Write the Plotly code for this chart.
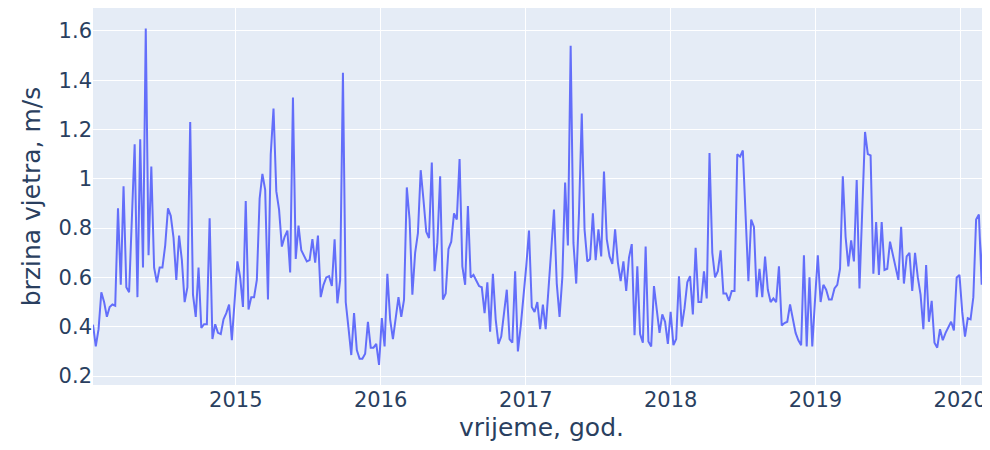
import pandas as pd
import plotly.graph_objects as go

start_date = "2014-01-06"

speed_2014 = [0.408, 0.32, 0.39, 0.54, 0.50, 0.44, 0.48, 0.49, 0.485, 0.88, 0.57, 0.97, 0.56, 0.54, 0.84,
              1.14, 0.52, 1.16, 0.64, 1.61, 0.69, 1.05, 0.64, 0.58, 0.64, 0.64, 0.73, 0.88, 0.85, 0.76,
              0.59, 0.77, 0.67, 0.50, 0.56, 1.23, 0.53, 0.44, 0.64, 0.395, 0.41]
speed_2015a = [0.41, 0.84, 0.35, 0.41, 0.375, 0.37, 0.43, 0.455, 0.49, 0.345, 0.51, 0.665, 0.60, 0.48,
               0.91, 0.47, 0.52, 0.52, 0.59, 0.92, 1.02, 0.955, 0.51, 1.10, 1.285, 0.95, 0.875, 0.725,
               0.765, 0.79, 0.62, 1.33, 0.675, 0.81, 0.71, 0.69, 0.665, 0.67]
speed_2015b = [0.755, 0.66, 0.77, 0.52, 0.57, 0.60, 0.605, 0.565, 0.755, 0.495, 0.59, 1.43, 0.50, 0.395,
               0.285, 0.455, 0.305, 0.27, 0.27, 0.29, 0.42, 0.315, 0.315, 0.33, 0.245, 0.435, 0.32, 0.615,
               0.43, 0.35, 0.43, 0.52, 0.44, 0.51, 0.965, 0.835, 0.53, 0.70, 0.78, 1.035, 0.915, 0.785, 0.76]
speed_2016 = [1.066, 0.625, 0.74, 1.01, 0.51, 0.535, 0.715, 0.745, 0.86, 0.835, 1.08, 0.645, 0.57, 0.89,
              0.60, 0.61, 0.59, 0.565, 0.56, 0.455, 0.58, 0.38, 0.615, 0.43, 0.33, 0.36, 0.455, 0.55, 0.35,
              0.335, 0.625, 0.30, 0.40, 0.51, 0.645, 0.79, 0.48, 0.46, 0.50, 0.39]
speed_2017 = [0.49, 0.39, 0.535, 0.71, 0.875, 0.575, 0.44, 0.60, 0.985, 0.73, 1.54, 0.74, 0.575, 0.86,
              1.265, 0.795, 0.665, 0.675, 0.86, 0.67, 0.795, 0.685, 1.03, 0.755, 0.685, 0.655, 0.795, 0.66,
              0.585, 0.665, 0.545, 0.68, 0.735, 0.365, 0.645, 0.37, 0.335, 0.725, 0.34, 0.32, 0.565]
speed_2018 = [0.48, 0.375, 0.45, 0.42, 0.33, 0.46, 0.325, 0.35, 0.605, 0.40, 0.475, 0.58, 0.605, 0.45,
              0.72, 0.50, 0.50, 0.625, 0.515, 1.105, 0.70, 0.60, 0.625, 0.71, 0.535, 0.535, 0.505, 0.545,
              0.545, 1.10, 1.09, 1.115, 0.85, 0.585, 0.835, 0.805, 0.52, 0.635, 0.52, 0.685]
speed_2019 = [0.55, 0.50, 0.515, 0.50, 0.645, 0.405, 0.415, 0.42, 0.49, 0.435, 0.375, 0.345, 0.325, 0.69,
              0.32, 0.60, 0.32, 0.51, 0.69, 0.50, 0.57, 0.55, 0.51, 0.51, 0.555, 0.57, 0.635, 1.01, 0.765,
              0.645, 0.75, 0.665, 0.995, 0.555, 0.915, 1.19, 1.10, 1.095, 0.615, 0.825]
speed_2020 = [0.61, 0.825, 0.63, 0.635, 0.745, 0.69, 0.63, 0.59, 0.805, 0.575, 0.685, 0.70, 0.545, 0.70,
              0.60, 0.53, 0.39, 0.65, 0.42, 0.505, 0.335, 0.315, 0.39, 0.345, 0.375, 0.40, 0.42, 0.385,
              0.60, 0.61, 0.46, 0.36, 0.435, 0.43, 0.52, 0.835, 0.855, 0.57, 0.975, 0.78, 0.565]

speed = (speed_2014 + speed_2015a + speed_2015b + speed_2016 + speed_2017
         + speed_2018 + speed_2019 + speed_2020)
dates = pd.date_range(start=start_date, periods=len(speed), freq="7D")

fig = go.Figure(go.Scatter(x=dates, y=speed, mode="lines",
                           line=dict(color="#636efa", width=2)))
fig.update_layout(
    template="plotly",
    width=982, height=434,
    autosize=False,
    margin=dict(l=85, r=0, t=0, b=57),
    font=dict(family="DejaVu Sans, Verdana, sans-serif", size=21, color="#2a3f5f"),
    showlegend=False,
)
fig.update_xaxes(title_text="vrijeme, god.", range=[dates[0], dates[-1]],
                 automargin=False, title_standoff=12)
fig.update_yaxes(title_text="brzina vjetra, m/s", range=[0.1635, 1.693],
                 tickvals=[0.2, 0.4, 0.6, 0.8, 1.0, 1.2, 1.4, 1.6],
                 automargin=False, title_standoff=10)
fig.write_html("out.html", config={"responsive": False})
